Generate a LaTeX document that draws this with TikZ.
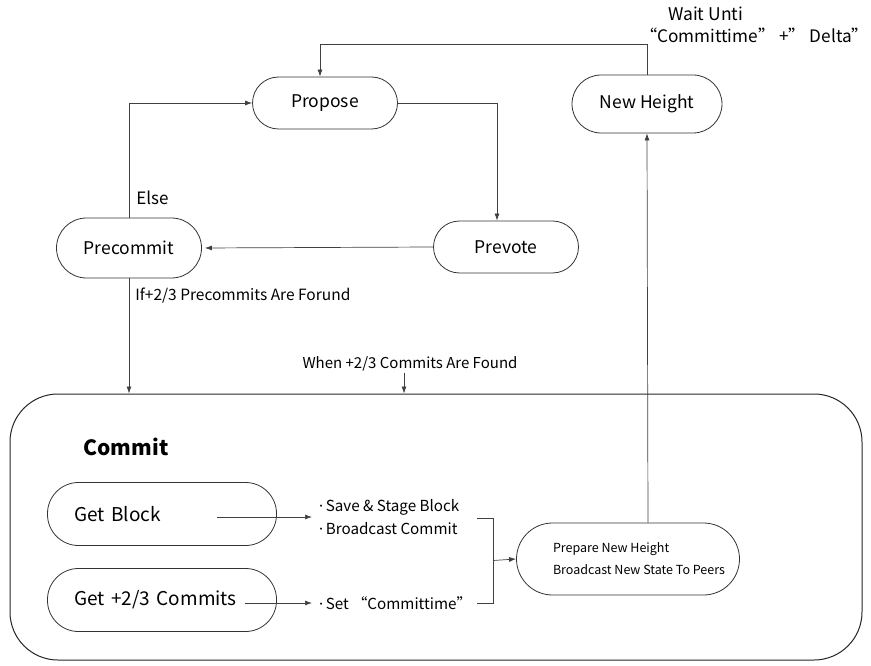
\documentclass[tikz,border=0pt]{standalone}
\usepackage{fontspec}
\setmainfont{Noto Sans CJK SC}
\newfontfamily\dotfont{Noto Sans}
\usetikzlibrary{arrows.meta,positioning,calc}

\begin{document}
\begin{tikzpicture}[x=1pt, y=-1pt,
        state/.style={
                draw=black!80,
                line width=0.8pt,
                rounded corners=26pt,
                minimum width=145pt,
                minimum height=52pt,
                font=\fontsize{17.5}{20}\selectfont
        },
        link/.style={draw=black!75, line width=0.7pt, -{Latex[length=7pt,width=5pt]}},
        note/.style={font=\fontsize{15.5}{18}\selectfont, inner sep=1pt}]
            \useasboundingbox (0,0) rectangle (871,666);
            % states of the round
            \node[state] (propose) at (325,103) {Propose};
            \node[state, minimum width=150pt, minimum height=58pt, rounded corners=29pt] (height) at (647,104) {New Height};
            \node[state] (prevote) at (506,247) {Prevote};
            \node[state, minimum height=60pt, rounded corners=30pt] (precommit) at (129,248) {Precommit};
            % commit block
            \node[draw=black!85, line width=1pt, rounded corners=48pt, minimum width=852pt, minimum height=266pt] (commit) at (436,527) {};
            \node[font=\bfseries\fontsize{21}{24}\selectfont] (title) at (126,447) {Commit};
            \node[state, minimum width=229pt, minimum height=63pt, rounded corners=31pt, text width=175pt, align=left, inner xsep=27pt, font=\fontsize{19}{22}\selectfont] (getblock) at (162,514) {Get Block};
            \node[state, minimum width=229pt, minimum height=63pt, rounded corners=31pt, text width=175pt, align=left, inner xsep=27pt, font=\fontsize{19}{22}\selectfont] (getcommits) at (162,600) {Get +2/3 Commits};
            \node[state, minimum width=223pt, minimum height=72pt, rounded corners=36pt, align=left, font=\fontsize{12.5}{22}\selectfont] (prepare) at (628,559) {\hspace*{22pt}Prepare New Height\\\hspace*{22pt}Broadcast New State To Peers};
            \node[note, anchor=west, align=left, font=\fontsize{15.2}{23}\selectfont] (saveblock) at (318,517) {{\dotfont·}\,Save \& Stage Block\\{\dotfont·}\,Broadcast Commit};
            \node[note, anchor=west, font=\fontsize{15.2}{18}\selectfont] (settime) at (318,603) {{\dotfont·}\,Set “Committime”};
            \coordinate (brtop) at (477,518);
            \coordinate (brbot) at (477,603);
            % labels
            \node[note, font=\fontsize{15}{18}\selectfont] (when) at (410,364) {When +2/3 Commits Are Found};
            \node[note, anchor=base west, font=\fontsize{17.5}{20}\selectfont] (wait) at (667,21) {Wait Unti};
            \node[note, anchor=base west, font=\fontsize{17.2}{20}\selectfont] (delta) at (639,43) {“Committime” +” Delta”};
            % connectors
            \draw[link] (height.north) -- ++(0,-30) -| ([xshift=-5pt]propose.north);
            \draw[link] (propose.east) -| ([xshift=-9pt]prevote.north);
            \draw[link, shorten >=3pt] (prevote.west) -- (precommit.east);
            \draw[link] (precommit.north) |- (propose.west) node[note, pos=0.05, above right, xshift=6pt, font=\fontsize{17}{20}\selectfont] {Else};
            \draw[link] (precommit.south) -- (precommit.south |- commit.north) node[note, pos=0.15, right=5pt] {If+2/3 Precommits Are Forund};
            \draw[link] ([xshift=-6pt]when.south) -- ([xshift=-6pt]when.south |- commit.north);
            \draw[link] ([xshift=-60pt]getblock.east |- saveblock.west) -- ([xshift=-6pt]saveblock.west);
            \draw[link] ([xshift=-32pt]getcommits.east |- settime.west) -- ([xshift=-6pt]settime.west);
            \draw[draw=black!75, line width=0.7pt] (brtop) -- ++(16,0) |- (brbot);
            \draw[link] ($(brtop)!0.5!(brbot)+(16,0)$) -- (prepare.west);
            \draw[link] ([xshift=20pt]prepare.north) -- (height.south);
\end{tikzpicture}
\end{document}
